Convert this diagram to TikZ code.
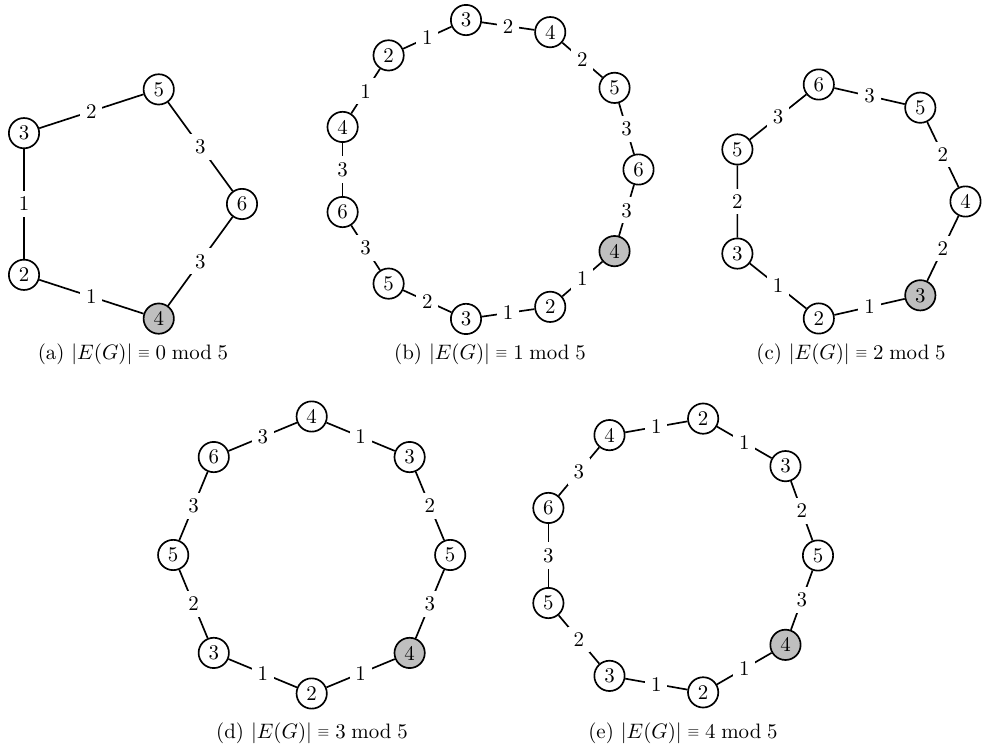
\documentclass[tikz,border=0pt]{standalone}
\newcommand{\smeq}{\mathrel{\vcenter{\hbox{\scalebox{0.72}{$\equiv$}}}}}
\begin{document}
\begin{tikzpicture}[x=0.4786pt,y=-0.4786pt,
  vtx/.style={circle,draw,thick,inner sep=0pt,minimum size=14.5pt,fill=white},
  gvtx/.style={vtx,fill=gray!50},
  elab/.style={fill=white,inner sep=2.8pt},
  edge/.style={thick}]
\useasboundingbox (0,0) rectangle (982,747);
% (a)
\begin{scope}[shift={(121.5,204)}]
\foreach \k/\v/\s in {0/6/vtx,1/5/vtx,2/3/vtx,3/2/vtx,4/4/gvtx}
  \node[\s] (a\k) at (-72*\k:120.5) {\v};
\end{scope}
\foreach \k/\j/\l in {0/1/3,1/2/2,2/3/1,3/4/1,4/0/3}
  \draw[edge] (a\k) -- node[elab]{\l} (a\j);
\node (capa) at (133,354) {(a) $|E(G)| \smeq 0 \bmod 5$};
% (b)
\begin{scope}[shift={(487.5,169.5)}]
\foreach \k/\v/\s in {0/6/vtx,1/5/vtx,2/4/vtx,3/3/vtx,4/2/vtx,5/4/vtx,6/6/vtx,7/5/vtx,8/3/vtx,9/2/vtx,10/4/gvtx}
  \node[\s] (b\k) at (-360/11*\k:151) {\v};
\end{scope}
\foreach \k/\j/\l in {0/1/3,1/2/2,2/3/2,3/4/1,4/5/1,5/6/3,6/7/3,7/8/2,8/9/1,9/10/1,10/0/3}
  \draw[edge] (b\k) -- node[elab]{\l} (b\j);
\node (capb) at (490,354) {(b) $|E(G)| \smeq 1 \bmod 5$};
% (c)
\begin{scope}[shift={(845.5,201.5)}]
\foreach \k/\v/\s in {0/4/vtx,1/5/vtx,2/6/vtx,3/5/vtx,4/3/vtx,5/2/vtx,6/3/gvtx}
  \node[\s] (c\k) at (-360/7*\k:120) {\v};
\end{scope}
\foreach \k/\j/\l in {0/1/2,1/2/3,2/3/3,3/4/2,4/5/1,5/6/1,6/0/2}
  \draw[edge] (c\k) -- node[elab]{\l} (c\j);
\node (capc) at (851,354) {(c) $|E(G)| \smeq 2 \bmod 5$};
% (d)
\begin{scope}[shift={(311.7,555)}]
\foreach \k/\v/\s in {0/5/vtx,1/3/vtx,2/4/vtx,3/6/vtx,4/5/vtx,5/3/vtx,6/2/vtx,7/4/gvtx}
  \node[\s] (d\k) at (-45*\k:138.5) {\v};
\end{scope}
\foreach \k/\j/\l in {0/1/2,1/2/1,2/3/3,3/4/3,4/5/2,5/6/1,6/7/1,7/0/3}
  \draw[edge] (d\k) -- node[elab]{\l} (d\j);
\node (capd) at (312,733) {(d) $|E(G)| \smeq 3 \bmod 5$};
% (e)
\begin{scope}[shift={(679,555.5)}]
\foreach \k/\v/\s in {0/5/vtx,1/3/vtx,2/2/vtx,3/4/vtx,4/6/vtx,5/5/vtx,6/3/vtx,7/2/vtx,8/4/gvtx}
  \node[\s] (e\k) at (-40*\k:139) {\v};
\end{scope}
\foreach \k/\j/\l in {0/1/2,1/2/1,2/3/1,3/4/3,4/5/3,5/6/2,6/7/1,7/8/1,8/0/3}
  \draw[edge] (e\k) -- node[elab]{\l} (e\j);
\node (cape) at (683,733) {(e) $|E(G)| \smeq 4 \bmod 5$};
\end{tikzpicture}
\end{document}
